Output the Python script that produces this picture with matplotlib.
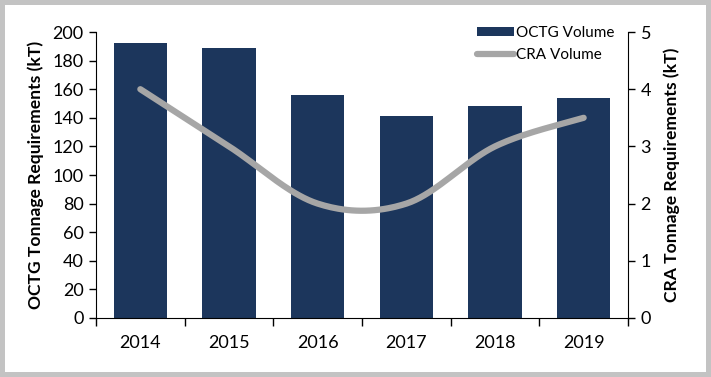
import matplotlib
matplotlib.use("Agg")
import matplotlib.pyplot as plt
from matplotlib.patches import Rectangle
import numpy as np

plt.rcParams['font.family'] = ['Lato', 'DejaVu Sans']

years = ['2014', '2015', '2016', '2017', '2018', '2019']
octg_volume = [192, 189, 156, 141, 148, 154]
cra_volume = [4.0, 3.0, 2.0, 2.0, 3.0, 3.5]

bar_color = '#1C365C'
line_color = '#A6A6A6'
border_color = '#C3C3C3'


def smooth_curve(xs, ys, n=40):
    # excel style smoothed line (catmull-rom through the points)
    xs = np.asarray(xs, float)
    ys = np.asarray(ys, float)
    px = np.concatenate([[xs[0]], xs, [xs[-1]]])
    py = np.concatenate([[ys[0]], ys, [ys[-1]]])
    outx, outy = [], []
    for i in range(1, len(px) - 2):
        t = np.linspace(0, 1, n)
        for p, out in ((px, outx), (py, outy)):
            p0, p1, p2, p3 = p[i - 1], p[i], p[i + 1], p[i + 2]
            c1 = p1 + (p2 - p0) / 6.0
            c2 = p2 - (p3 - p1) / 6.0
            out.extend((1 - t) ** 3 * p1 + 3 * (1 - t) ** 2 * t * c1
                       + 3 * (1 - t) * t ** 2 * c2 + t ** 3 * p2)
    return outx, outy


W, H = 711, 377
fig = plt.figure(figsize=(W / 100, H / 100), dpi=100)
fig.patch.set_facecolor(border_color)
b = 5
fig.patches.append(Rectangle((b / W, b / H), 1 - 2 * b / W, 1 - 2 * b / H,
                             transform=fig.transFigure, facecolor='white',
                             edgecolor='none', zorder=-10))

ax = fig.add_axes([96 / W, 1 - 318 / H, (628 - 96) / W, (318 - 32) / H])
ax.set_facecolor('none')
x = np.arange(len(years))
ax.bar(x, octg_volume, width=0.6, color=bar_color, label='OCTG Volume', zorder=2)
ax.set_xlim(-0.5, len(years) - 0.5)
ax.set_ylim(0, 200)
ax.set_yticks(np.arange(0, 201, 20))
ax.set_xticks(x, years)
ax.set_xticks(np.arange(-0.5, len(years), 1), minor=True)
ax.tick_params(axis='x', which='major', length=0, pad=12, labelsize=13)
ax.tick_params(axis='x', which='minor', length=6, width=1)
ax.tick_params(axis='y', length=5, width=1, labelsize=13, pad=4)
ax.spines['top'].set_visible(False)
ax.spines['right'].set_visible(False)
ax.set_ylabel('OCTG Tonnage Requirements (kT)', fontsize=12.6, fontweight='bold', labelpad=6)

ax2 = ax.twinx()
sx, sy = smooth_curve(x, cra_volume)
ax2.plot(sx, sy, color=line_color, linewidth=4.5, solid_capstyle='round',
         label='CRA Volume', zorder=3)
ax2.set_ylim(0, 5)
ax2.set_yticks(range(0, 6))
ax2.tick_params(axis='y', length=5, width=1, labelsize=13, pad=4)
for s in ('top', 'left', 'bottom'):
    ax2.spines[s].set_visible(False)
ax2.set_ylabel('CRA Tonnage Requirements (kT)', fontsize=12.6, fontweight='bold', labelpad=9)

h1, l1 = ax.get_legend_handles_labels()
h2, l2 = ax2.get_legend_handles_labels()
ax2.legend(h1 + h2, l1 + l2, loc='upper right', bbox_to_anchor=(1.0, 1.07),
           frameon=False, fontsize=11, handlelength=2.4, handleheight=0.5,
           handletextpad=0.15, labelspacing=0.55)

fig.savefig('out.png', dpi=100, facecolor=fig.get_facecolor())
